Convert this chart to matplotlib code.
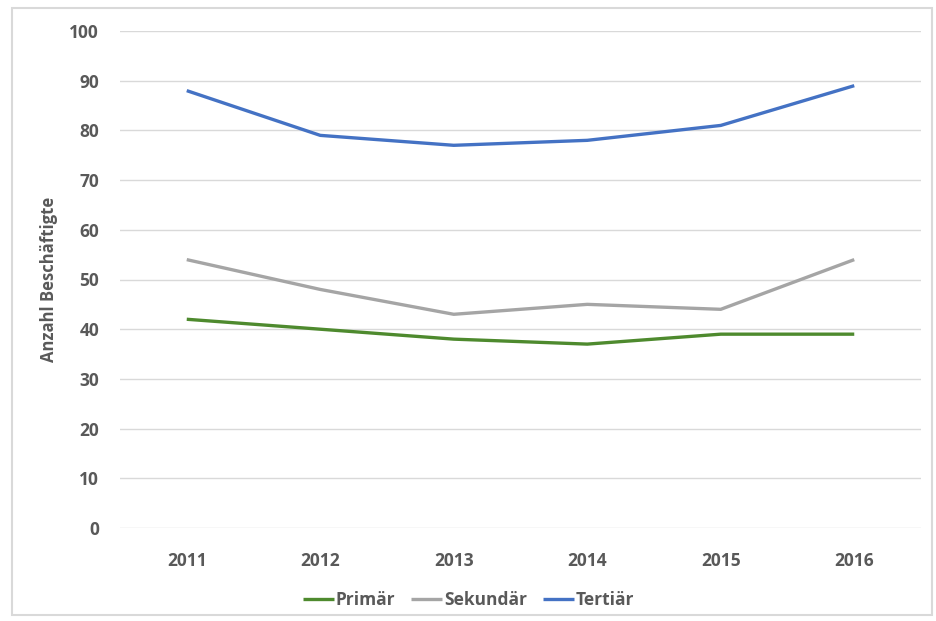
import matplotlib
matplotlib.use("Agg")
import matplotlib.pyplot as plt
from matplotlib.patches import Rectangle

years = ["2011", "2012", "2013", "2014", "2015", "2016"]
primaer = [42, 40, 38, 37, 39, 39]
sekundaer = [54, 48, 43, 45, 44, 54]
tertiaer = [88, 79, 77, 78, 81, 89]
series_names = ["Primär", "Sekundär", "Tertiär"]
colors = ["#4E8A2E", "#A5A5A5", "#4472C4"]
yticks = list(range(0, 101, 10))

plt.rcParams['font.family'] = ['Open Sans', 'DejaVu Sans']
fig = plt.figure(figsize=(9.37, 6.21), dpi=100)
fig.patches.append(Rectangle((12/937, 1-615/621), 920/937, 607/621, transform=fig.transFigure,
                             fill=False, edgecolor="#D9D9D9", linewidth=1.5))
ax = fig.add_axes([120/937, 1-528/621, 801/937, 497/621])
x = range(len(years))
for vals, name, c in zip([primaer, sekundaer, tertiaer], series_names, colors):
    ax.plot(x, vals, color=c, linewidth=2.4, label=name, solid_capstyle='butt')

ax.set_xlim(-0.5, len(years) - 0.5)
ax.set_ylim(0, 100)
ax.set_yticks(yticks)
ax.set_xticks(list(x))
ax.set_xticklabels(years)
ax.grid(axis='y', color="#D9D9D9", linewidth=1)
ax.set_axisbelow(True)
for s in ax.spines.values():
    s.set_visible(False)
ax.tick_params(length=0, labelsize=12.5, labelcolor="#595959")
for lbl in ax.get_xticklabels() + ax.get_yticklabels():
    lbl.set_fontweight('bold')
ax.tick_params(axis='y', pad=15)
ax.tick_params(axis='x', pad=17)
ax.set_ylabel("Anzahl Beschäftigte", fontsize=12, fontweight='bold', color="#595959", labelpad=8)
leg = fig.legend(loc='center', bbox_to_anchor=(0.5, 1-600/621), ncol=3, frameon=False,
                 handlelength=1.8, handletextpad=0.1, columnspacing=0.9,
                 prop={'size': 12.5, 'weight': 'bold'})
for t in leg.get_texts():
    t.set_color("#595959")
fig.savefig("out.png", dpi=100)
